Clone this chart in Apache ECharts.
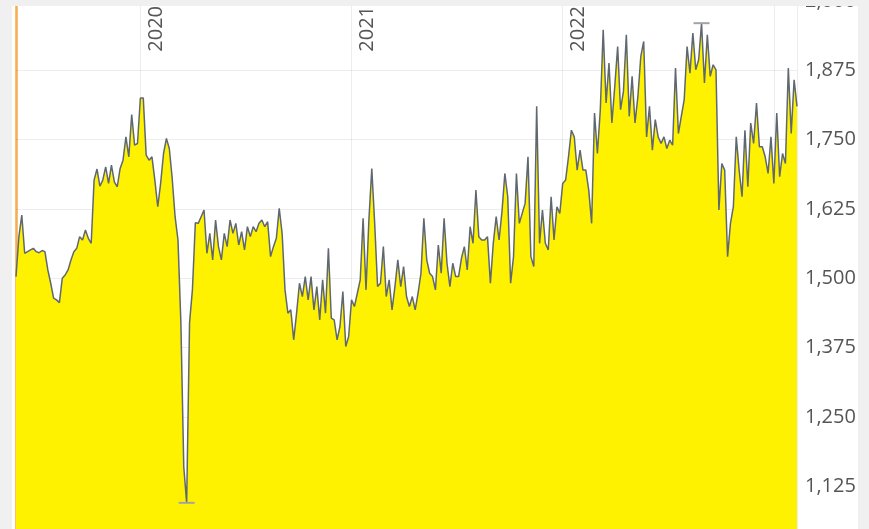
<!DOCTYPE html>
<html>
<head>
<meta charset="utf-8">
<script src="https://cdn.jsdelivr.net/npm/echarts@6/dist/echarts.min.js"></script>
<style>
  html, body { margin: 0; padding: 0; background: #f0f0f0; }
  #panel { position: absolute; left: 12px; top: 6px; width: 846px; height: 523px; background: #fff; overflow: hidden; }
  #chart { width: 846px; height: 523px; }
</style>
</head>
<body>
<div id="panel"><div id="chart"></div></div>
<script>
// one reading every 5 days starting 2019-06-01
const startDate = [2019, 5, 1];
const stepDays = 5;
const values = [
  1503, 1575, 1614, 1545, 1548, 1551, 1554, 1548, 1546, 1550,
  1548, 1515, 1491, 1464, 1461, 1456, 1500, 1506, 1515, 1533,
  1548, 1554, 1575, 1569, 1587, 1572, 1563, 1677, 1697, 1666,
  1677, 1701, 1671, 1704, 1674, 1665, 1698, 1713, 1755, 1719,
  1795, 1740, 1743, 1825, 1825, 1722, 1713, 1719, 1677, 1629,
  1671, 1725, 1752, 1734, 1680, 1611, 1569, 1420, 1160, 1095,
  1420, 1480, 1600, 1599, 1611, 1623, 1545, 1581, 1533, 1605,
  1557, 1533, 1581, 1557, 1605, 1581, 1599, 1560, 1584, 1551,
  1593, 1575, 1593, 1584, 1599, 1605, 1593, 1602, 1539, 1557,
  1572, 1626, 1581, 1479, 1437, 1443, 1389, 1437, 1491, 1467,
  1503, 1461, 1503, 1443, 1485, 1425, 1497, 1437, 1554, 1428,
  1425, 1389, 1413, 1476, 1377, 1395, 1461, 1449, 1473, 1497,
  1608, 1479, 1605, 1698, 1599, 1485, 1491, 1557, 1467, 1497,
  1443, 1485, 1533, 1485, 1521, 1467, 1449, 1467, 1443, 1473,
  1509, 1608, 1533, 1509, 1503, 1479, 1560, 1509, 1608, 1527,
  1485, 1527, 1503, 1503, 1536, 1557, 1515, 1593, 1563, 1659,
  1575, 1569, 1569, 1575, 1491, 1563, 1611, 1569, 1620, 1689,
  1647, 1491, 1539, 1689, 1599, 1617, 1635, 1719, 1539, 1521,
  1810, 1563, 1623, 1563, 1551, 1647, 1569, 1629, 1617, 1671,
  1677, 1719, 1767, 1755, 1695, 1731, 1695, 1695, 1659, 1599,
  1798, 1725, 1804, 1948, 1816, 1888, 1780, 1846, 1918, 1804,
  1837, 1939, 1792, 1864, 1780, 1828, 1900, 1927, 1755, 1810,
  1731, 1786, 1755, 1743, 1755, 1734, 1749, 1740, 1879, 1761,
  1792, 1822, 1918, 1870, 1942, 1876, 1894, 1960, 1852, 1939,
  1864, 1885, 1876, 1623, 1707, 1695, 1539, 1599, 1629, 1755,
  1695, 1647, 1767, 1665, 1780, 1743, 1816, 1737, 1737, 1719,
  1689, 1755, 1671, 1798, 1683, 1725, 1707, 1879, 1761, 1858,
  1810
];
const yearLabels = ['2020', '2021', '2022'];
const yMin = 1000;
const yMax = 2000;
const yStep = 125;

const dates = values.map((_, i) =>
  new Date(startDate[0], startDate[1], startDate[2] + i * stepDays).getTime()
);
const seriesData = values.map((v, i) => [dates[i], v]);

const chart = echarts.init(document.getElementById('chart'));

const textColor = '#555';
const gridColor = 'rgba(0,0,0,0.07)';

chart.setOption({
  animation: false,
  grid: { left: 4, right: 61, top: -5, bottom: -26.5, outerBoundsMode: 'none' },
  xAxis: {
    type: 'time',
    position: 'top',
    min: dates[0],
    max: dates[dates.length - 1],
    splitNumber: 3,
    z: 3,
    axisLine: { show: false },
    axisTick: { show: false },
    axisLabel: {
      inside: true,
      rotate: -90,
      margin: 5,
      verticalAlign: 'top',
      padding: [6, 0, 0, 0],
      fontSize: 20,
      fontFamily: 'Open Sans',
      color: textColor,
      formatter: (val) => {
        const d = new Date(val);
        const y = String(d.getFullYear());
        return d.getMonth() === 0 && d.getDate() === 1 && yearLabels.includes(y) ? y : '';
      },
    },
    splitLine: { show: true, lineStyle: { color: gridColor, width: 1 } },
  },
  yAxis: [
    {
      type: 'value',
      position: 'right',
      min: yMin,
      max: yMax,
      interval: yStep,
      z: 3,
      axisLine: { show: false },
      axisTick: { show: false },
      axisLabel: {
        margin: 8,
        fontSize: 20,
        fontFamily: 'Open Sans',
        color: textColor,
      },
      splitLine: { show: true, lineStyle: { color: gridColor, width: 1 } },
    },
    {
      // orange edge on the left
      type: 'value',
      position: 'left',
      min: yMin,
      max: yMax,
      axisLine: { show: true, lineStyle: { color: '#ffbd6b', width: 3 } },
      axisTick: { show: false },
      axisLabel: { show: false },
      splitLine: { show: false },
    },
  ],
  series: [
    {
      type: 'line',
      data: seriesData,
      symbol: 'none',
      lineStyle: { color: '#5f6870', width: 1.5 },
      areaStyle: { color: '#fff200', opacity: 1 },
      emphasis: { disabled: true },
      markPoint: {
        silent: true,
        symbol: 'rect',
        symbolSize: [16, 2],
        itemStyle: { color: '#a3a3a3' },
        label: { show: false },
        data: [{ type: 'max' }, { type: 'min' }],
      },
    },
  ],
});
</script>
</body>
</html>
